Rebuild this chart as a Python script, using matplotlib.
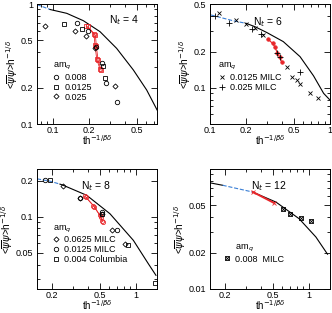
import numpy as np
import matplotlib
matplotlib.use('Agg')
import matplotlib.pyplot as plt
from matplotlib.ticker import FixedLocator, LogLocator, NullFormatter, FixedFormatter

plt.rcParams['font.family'] = ['Liberation Sans', 'DejaVu Sans']
plt.rcParams['mathtext.fontset'] = 'dejavusans'

RED = '#e8262a'
BLUE = '#3a7fd5'

# ---- Nt = 4 ----
p1_curve_x = [0.095, 0.131, 0.180, 0.248, 0.341, 0.470, 0.607, 0.75]
p1_curve_y = [0.90, 0.836, 0.726, 0.588, 0.427, 0.282, 0.192, 0.128]
p1_blue_x = [0.074, 0.095]
p1_blue_y = [0.99, 0.90]
p1_red_a_x = [0.190, 0.221, 0.225, 0.233, 0.248]
p1_red_a_y = [0.656, 0.560, 0.455, 0.346, 0.286]
p1_red_b_x = [0.196, 0.227, 0.231, 0.239, 0.254]
p1_red_b_y = [0.650, 0.550, 0.445, 0.340, 0.280]
p1_c008_x = [0.159, 0.198, 0.2275, 0.259, 0.280, 0.345]
p1_c008_y = [0.70, 0.60, 0.435, 0.320, 0.218, 0.153]
p1_s0125_x = [0.125, 0.174, 0.262, 0.272]
p1_s0125_y = [0.68, 0.615, 0.305, 0.240]
p1_d025_x = [0.0864, 0.153, 0.190, 0.225, 0.330]
p1_d025_y = [0.66, 0.59, 0.54, 0.43, 0.207]

# ---- Nt = 6 ----
p2_curve_x = [0.20, 0.236, 0.296, 0.408, 0.563, 0.729, 0.885, 0.99]
p2_curve_y = [0.345, 0.324, 0.290, 0.243, 0.182, 0.126, 0.090, 0.080]
p2_blue_x = [0.102, 0.155, 0.20]
p2_blue_y = [0.405, 0.363, 0.345]
p2_red_x = [0.305, 0.332, 0.347, 0.363, 0.382, 0.395]
p2_red_y = [0.254, 0.235, 0.220, 0.196, 0.180, 0.165]
p2_x0125_x = [0.1197, 0.165, 0.201, 0.236, 0.277, 0.435, 0.48, 0.528, 0.563, 0.683, 0.80]
p2_x0125_y = [0.418, 0.368, 0.340, 0.313, 0.276, 0.150, 0.124, 0.116, 0.108, 0.091, 0.082]
p2_p025_x = [0.111, 0.143, 0.225, 0.268, 0.359, 0.382, 0.557]
p2_p025_y = [0.397, 0.349, 0.308, 0.281, 0.194, 0.180, 0.136]

# ---- Nt = 8 ----
p3_curve_x = [0.233, 0.248, 0.389, 0.608, 0.953, 1.27, 1.47]
p3_curve_y = [0.187, 0.183, 0.151, 0.106, 0.0636, 0.0406, 0.0325]
p3_blue_x = [0.15, 0.192, 0.233]
p3_blue_y = [0.207, 0.198, 0.187]
p3_red_a_x = [0.377, 0.441, 0.500, 0.519]
p3_red_a_y = [0.148, 0.124, 0.103, 0.093]
p3_red_b_x = [0.385, 0.452, 0.510, 0.530]
p3_red_b_y = [0.145, 0.121, 0.100, 0.091]
p3_d0625_x = [0.248, 0.342, 0.519, 0.629, 0.81]
p3_d0625_y = [0.179, 0.143, 0.106, 0.078, 0.0597]
p3_c0125_x = [0.175, 0.342, 0.519, 0.69]
p3_c0125_y = [0.201, 0.143, 0.110, 0.078]
p3_s004_x = [0.192, 0.519, 0.864, 1.44]
p3_s004_y = [0.203, 0.106, 0.058, 0.028]

# ---- Nt = 12 ----
p4_curve_a_x = [0.152, 0.191]
p4_curve_a_y = [0.0765, 0.0732]
p4_blue_x = [0.191, 0.340]
p4_blue_y = [0.0732, 0.0643]
p4_curve_b_x = [0.340, 0.532, 0.83, 1.145, 1.43]
p4_curve_b_y = [0.0643, 0.053, 0.0385, 0.0271, 0.0195]
p4_red_x = [0.342, 0.515]
p4_red_y = [0.0643, 0.052]
p4_x008_x = [0.606, 0.697, 0.859, 1.04]
p4_x008_y = [0.0467, 0.0425, 0.039, 0.0369]

W, H = 332, 313
fig = plt.figure(figsize=(W / 100, H / 100), dpi=100)


def make_ax(x0, y0, xlim, ylim, xt, yt):
    ax = fig.add_axes([x0 / W, 1 - (y0 + 120) / H, 120 / W, 120 / H])
    ax.set_xscale('log')
    ax.set_yscale('log')
    ax.set_xlim(*xlim)
    ax.set_ylim(*ylim)
    ax.xaxis.set_major_locator(FixedLocator(xt))
    ax.xaxis.set_major_formatter(FixedFormatter([('%g' % v) for v in xt]))
    ax.yaxis.set_major_locator(FixedLocator(yt))
    ax.yaxis.set_major_formatter(FixedFormatter([('%g' % v) for v in yt]))
    ax.xaxis.set_minor_locator(LogLocator(subs=np.arange(1, 10)))
    ax.yaxis.set_minor_locator(LogLocator(subs=np.arange(1, 10)))
    ax.xaxis.set_minor_formatter(NullFormatter())
    ax.yaxis.set_minor_formatter(NullFormatter())
    ax.tick_params(which='both', direction='in', top=True, right=True,
                   labelsize=6.5, width=0.6, pad=2.5)
    ax.tick_params(axis='x', pad=1.5)
    ax.tick_params(which='major', length=4)
    ax.tick_params(which='minor', length=2)
    for s in ax.spines.values():
        s.set_linewidth(0.7)
    ax.set_xlabel(r'th$^{-1/\beta\delta}$', fontsize=7, va='bottom')
    ax.xaxis.set_label_coords(0.5, -0.195)
    ax.set_ylabel(r'<$\overline{\psi}\psi$>h$^{-1/\delta}$', fontsize=7.2, labelpad=0)
    return ax


mk = dict(ls='none', ms=3.2, mfc='none', mew=0.6, color='k')
leg_kw = dict(frameon=False, fontsize=6.5, title_fontsize=6.5, handlelength=0.8,
              handletextpad=0.5, labelspacing=0.1, borderaxespad=0, alignment='left')

# panel 1
ax = make_ax(37, 4, (0.074, 0.74), (0.1, 1.0), [0.1, 0.2, 0.5], [0.1, 0.2, 0.5, 1])
ax.plot(p1_blue_x, p1_blue_y, '--', color=BLUE, lw=0.8)
ax.plot(p1_curve_x, p1_curve_y, '-', color='k', lw=0.8)
ax.plot(p1_red_a_x, p1_red_a_y, 's-', color=RED, lw=0.6, ms=3, mfc='none', mew=0.6)
ax.plot(p1_red_b_x, p1_red_b_y, 's-', color=RED, lw=0.6, ms=3, mfc='none', mew=0.6)
ax.plot(p1_c008_x, p1_c008_y, marker='o', label='0.008', **mk)
ax.plot(p1_s0125_x, p1_s0125_y, marker='s', label='0.0125', **mk)
ax.plot(p1_d025_x, p1_d025_y, marker='D', label='0.025', **dict(mk, ms=2.6))
ax.legend(loc='upper left', bbox_to_anchor=(0.1, 0.56), title=r'am$_q$', **leg_kw)
ax.text(0.60, 0.87, r'N$_t$ = 4', transform=ax.transAxes, fontsize=7.5, va='center')

# panel 2
ax = make_ax(210, 4, (0.1, 1.0), (0.05, 0.5), [0.1, 0.2, 0.5, 1], [0.1, 0.2, 0.5])
ax.plot(p2_blue_x, p2_blue_y, '--', color=BLUE, lw=0.8)
ax.plot(p2_curve_x, p2_curve_y, '-', color='k', lw=0.8)
ax.plot(p2_red_x, p2_red_y, 'o-', color=RED, lw=0.8, ms=2.5, mew=0.6)
ax.plot(p2_x0125_x, p2_x0125_y, marker='x', label='0.0125 MILC', **mk)
ax.plot(p2_p025_x, p2_p025_y, marker='+', label='0.025 MILC', **dict(mk, ms=3.8))
ax.legend(loc='upper left', bbox_to_anchor=(0.04, 0.56), title=r'am$_q$', **leg_kw)
ax.text(0.36, 0.85, r'N$_t$ = 6', transform=ax.transAxes, fontsize=7.5, va='center')

# panel 3
ax = make_ax(37, 169, (0.15, 1.5), (0.025, 0.25), [0.2, 0.5, 1], [0.05, 0.1, 0.2])
ax.plot(p3_blue_x, p3_blue_y, '--', color=BLUE, lw=0.8)
ax.plot(p3_curve_x, p3_curve_y, '-', color='k', lw=0.8)
ax.plot(p3_red_a_x, p3_red_a_y, 'o-', color=RED, lw=0.6, ms=3, mfc='none', mew=0.6)
ax.plot(p3_red_b_x, p3_red_b_y, 'o-', color=RED, lw=0.6, ms=3, mfc='none', mew=0.6)
ax.plot(p3_d0625_x, p3_d0625_y, marker='D', label='0.0625 MILC', **dict(mk, ms=2.6))
ax.plot(p3_c0125_x, p3_c0125_y, marker='o', label='0.0125 MILC', **mk)
ax.plot(p3_s004_x, p3_s004_y, marker='s', label='0.004 Columbia', **mk)
ax.legend(loc='upper left', bbox_to_anchor=(0.1, 0.58), title=r'am$_q$', **leg_kw)
ax.text(0.37, 0.856, r'N$_t$ = 8', transform=ax.transAxes, fontsize=7.5, va='center')

# panel 4
ax = make_ax(210, 169, (0.15, 1.5), (0.01, 0.1), [0.2, 0.5, 1], [0.01, 0.02, 0.05])
ax.plot(p4_curve_a_x, p4_curve_a_y, '-', color='k', lw=0.8)
ax.plot(p4_blue_x, p4_blue_y, '--', color=BLUE, lw=0.8)
ax.plot(p4_curve_b_x, p4_curve_b_y, '-', color='k', lw=0.8)
ax.plot(p4_red_x, p4_red_y, 'x-', color=RED, lw=1.4, ms=3, mew=0.6)
hs = ax.plot(p4_x008_x, p4_x008_y, marker='s', **mk)[0]
hx = ax.plot(p4_x008_x, p4_x008_y, marker='x', **dict(mk, ms=2.6))[0]
ax.legend([(hs, hx)], ['0.008  MILC'], loc='upper left', bbox_to_anchor=(0.08, 0.42),
          title=r'     am$_q$', **leg_kw)
ax.text(0.34, 0.856, r'N$_t$ = 12', transform=ax.transAxes, fontsize=7.5, va='center')

fig.savefig('out.png', dpi=100)
